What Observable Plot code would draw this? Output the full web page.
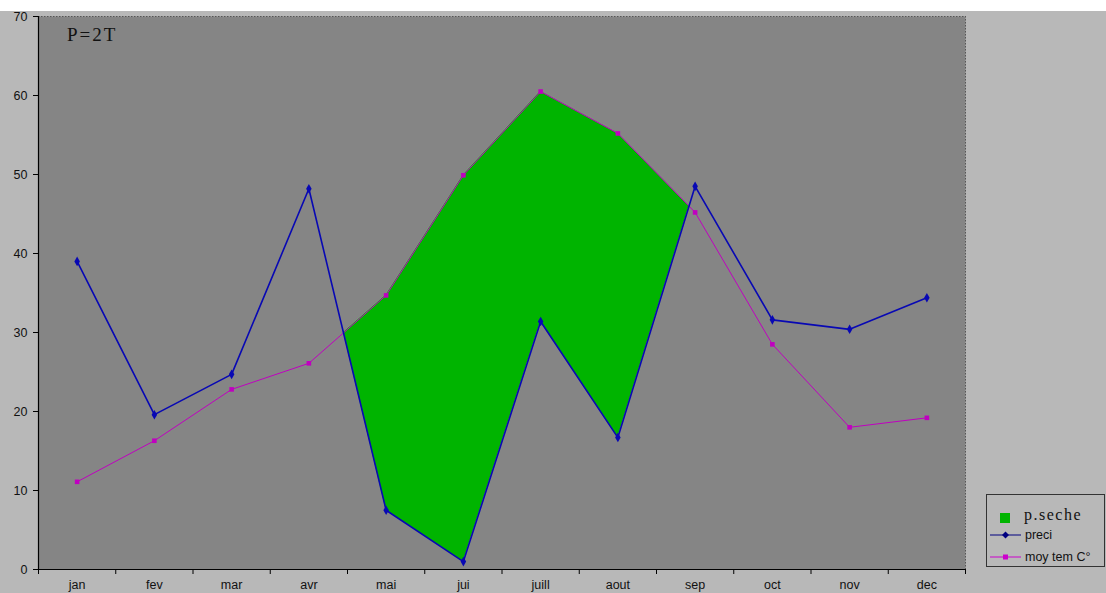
<!DOCTYPE html>
<html>
<head>
<meta charset="utf-8">
<script src="https://cdn.jsdelivr.net/npm/d3@7"></script>
<script src="https://cdn.jsdelivr.net/npm/@observablehq/plot@0.6"></script>
<style>
  body { margin: 0; background: #b8b8b8; }
  #chart { position: relative; width: 1106px; height: 593px; overflow: hidden;
           background: linear-gradient(#ffffff 0 11px, #b8b8b8 11px); }
  #title { position: absolute; left: 67px; top: 24px; font: 19px "Liberation Serif", "DejaVu Serif", serif;
           letter-spacing: 2px; color: #111; }
  #legend { position: absolute; left: 986px; top: 494px; width: 117px; height: 71px;
            border: 1px solid #333; background: #b8b8b8; }
  #legend svg { position: absolute; left: 0; top: 0; }
</style>
</head>
<body>
<div id="chart">
  <div id="title">P=2T</div>
  <div id="legend">
    <svg width="117" height="71">
      <rect x="13" y="18" width="10" height="10" fill="#00b400"></rect>
      <text x="37" y="25" font-family="Liberation Serif, serif" font-size="16" letter-spacing="1.5" fill="#111">p.seche</text>
      <line x1="3" x2="34" y1="40" y2="40" stroke="#000080" stroke-width="1"></line>
      <path d="M18.5,36.5 L22,40 L18.5,43.5 L15,40 Z" fill="#000080"></path>
      <text x="38" y="44" font-family="Liberation Sans, Arial, sans-serif" font-size="12.5" fill="#111">preci</text>
      <line x1="3" x2="34" y1="62" y2="62" stroke="#cc00cc" stroke-width="1"></line>
      <rect x="16" y="59.5" width="5" height="5" fill="#cc00cc"></rect>
      <text x="38" y="66" font-family="Liberation Sans, Arial, sans-serif" font-size="12.5" fill="#111">moy tem C°</text>
    </svg>
  </div>
</div>
<script>
// Monthly precipitation (mm) and twice the mean temperature (2T, °C)
const months = ["jan", "fev", "mar", "avr", "mai", "jui", "juill", "aout", "sep", "oct", "nov", "dec"];
const preci  = [39.0, 19.6, 24.7, 48.2, 7.5, 1.0, 31.4, 16.7, 48.5, 31.6, 30.4, 34.4];
const temp2  = [11.1, 16.3, 22.8, 26.1, 34.7, 49.9, 60.5, 55.2, 45.2, 28.5, 18.0, 19.2];
const yTicks = [0, 10, 20, 30, 40, 50, 60, 70];

const rows = months.map((m, i) => ({i, m, p: preci[i], t: temp2[i]}));

// Dry season: where 2T exceeds P, bounded by the crossing points of the two curves
const dry = [];
for (let i = 0; i < rows.length; i++) {
  const d = temp2[i] - preci[i];
  if (i > 0) {
    const dp = temp2[i - 1] - preci[i - 1];
    if ((dp < 0) !== (d < 0)) {
      const f = dp / (dp - d);
      const y = preci[i - 1] + f * (preci[i] - preci[i - 1]);
      dry.push({x: i - 1 + f, lo: y, hi: y});
      if (d < 0) dry.push({x: i - 1 + f, lo: NaN, hi: NaN});
    }
  }
  if (d >= 0) dry.push({x: i, lo: preci[i], hi: temp2[i]});
}

const chart = Plot.plot({
  width: 1106,
  height: 593,
  marginTop: 16,
  marginRight: 141,
  marginBottom: 24,
  marginLeft: 38,
  style: {background: "transparent", fontFamily: "'Liberation Sans', Arial, sans-serif", fontSize: "12.5px", color: "#111"},
  x: {type: "linear", domain: [-0.5, 11.5]},
  y: {domain: [0, 70]},
  marks: [
    Plot.frame({fill: "#858585"}),
    Plot.ruleY([70], {stroke: "#555", strokeDasharray: "1.5,1.5"}),
    Plot.ruleX([11.5], {stroke: "#555", strokeDasharray: "1.5,1.5"}),
    Plot.areaY(dry, {x: "x", y1: "lo", y2: "hi", fill: "#00b400"}),
    Plot.lineY(rows, {x: "i", y: "t", stroke: "#c000c0", strokeWidth: 1}),
    Plot.lineY(rows, {x: "i", y: "p", stroke: "#0808b4", strokeWidth: 1.6}),
    Plot.dot(rows, {x: "i", y: "t", symbol: "square", fill: "#c000c0", r: 2.6}),
    Plot.dot(rows, {x: "i", y: "p", symbol: "diamond", fill: "#0808b4", r: 2.9}),
    Plot.ruleY([0], {stroke: "#000", strokeWidth: 1.2}),
    Plot.ruleX([-0.5], {stroke: "#000", strokeWidth: 1.2}),
    Plot.axisY(yTicks, {tickSize: 5, tickPadding: 6, label: null, stroke: "#000"}),
    Plot.axisX(d3.range(-0.5, 12, 1), {tickSize: 5, tickFormat: () => "", label: null, stroke: "#000"}),
    Plot.axisX(d3.range(12), {tickSize: 0, tickPadding: 11, tickFormat: (i) => months[i], label: null})
  ]
});
chart.style.position = "absolute";
chart.style.left = "0";
chart.style.top = "0";
document.getElementById("chart").prepend(chart);
</script>
</body>
</html>
